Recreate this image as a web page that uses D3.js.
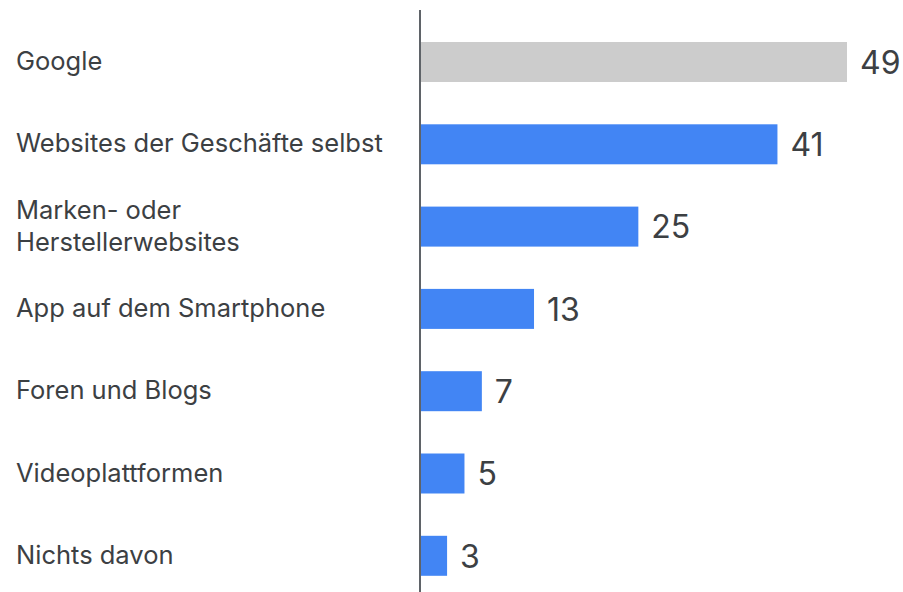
<!DOCTYPE html>
<html><head><meta charset="utf-8">
<script src="https://cdn.jsdelivr.net/npm/d3@7"></script>
<style>body{margin:0;background:#fff}svg{display:block}</style>
</head><body>
<script>
const categories = ["Google", "Websites der Geschäfte selbst", "Marken- oder|Herstellerwebsites", "App auf dem Smartphone", "Foren und Blogs", "Videoplattformen", "Nichts davon"];
const values = [49, 41, 25, 13, 7, 5, 3];
const barColors = ["#cccccc", "#4285f4", "#4285f4", "#4285f4", "#4285f4", "#4285f4", "#4285f4"];

const W = 903, H = 592;
const svg = d3.select("body").append("svg").attr("width", W).attr("height", H);
const x = d3.scaleLinear().domain([0, 49]).range([421, 847]);
const pad = 1 - 40/82.3;
const y = d3.scaleBand().domain(categories).range([42 - 82.3*pad/2, 42 - 82.3*pad/2 + 82.3*7]).paddingInner(pad).paddingOuter(pad/2);

svg.selectAll("rect.bar").data(values).join("rect")
  .attr("x", x(0)).attr("y", (d,i)=>y(categories[i]))
  .attr("width", d=>x(d)-x(0)).attr("height", y.bandwidth())
  .attr("fill", (d,i)=>barColors[i]);

svg.append("line").attr("x1",420).attr("x2",420).attr("y1",10).attr("y2",H)
  .attr("stroke","#5f6368").attr("stroke-width",2);

const font = "Inter, sans-serif";
svg.selectAll("text.cat").data(categories).join("text")
  .attr("class","cat")
  .attr("font-family", font).attr("font-size", 25.5).attr("fill","#3c4043")
  .each(function(c){
    const lines = c.split("|");
    const cy = y(c) + y.bandwidth()/2;
    const t = d3.select(this);
    lines.forEach((l,j)=>{
      t.append("tspan").attr("x",16)
       .attr("y", cy + (j - (lines.length-1)/2)*32 - 1).attr("dy","0.36em").text(l);
    });
  });

svg.selectAll("text.val").data(values).join("text")
  .attr("font-family", font).attr("font-size", 32).attr("fill","#3c4043")
  .attr("x", d=>x(d)+13).attr("y",(d,i)=>y(categories[i]) + y.bandwidth()/2)
  .attr("dy","0.37em").text(d=>d);
</script>
</body></html>
